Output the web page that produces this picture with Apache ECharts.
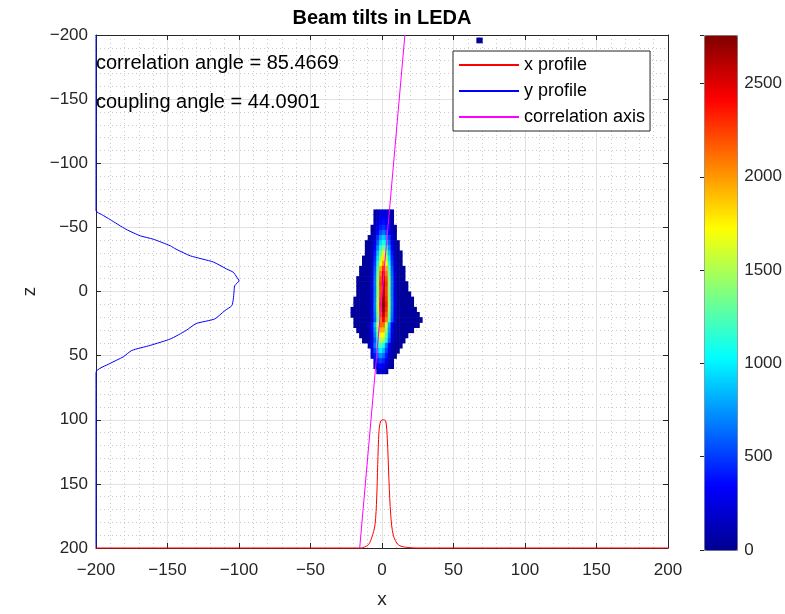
<!DOCTYPE html>
<html><head><meta charset="utf-8">
<script src="https://cdn.jsdelivr.net/npm/echarts@6/dist/echarts.min.js"></script>
<style>html,body{margin:0;padding:0;background:#fff}#c{width:785px;height:614px}</style>
</head><body><div id="c"></div>
<script>
// ---------------- data ----------------
const xTickStep = 50;               // x and z axes: -200 ... 200
const colorbarTicks = [0, 500, 1000, 1500, 2000, 2500];
const colorbarMax = 2760;
const annotations = ['correlation angle = 85.4669', 'coupling angle = 44.0901'];

// y profile (blue): [x, z]
const yProfile = [
  [-200,-200],[-200,-63],[-196,-60],[-190,-56],[-179,-48.5],[-169,-43.4],[-160,-40.8],
  [-148,-35.6],[-144,-33],[-134,-27.8],[-118,-23],[-108.6,-17.5],[-104,-15],[-101.6,-11.3],
  [-100,-8.4],[-103,-4.5],[-103.5,0.4],[-104,6],[-105,11],[-110,15],[-117,21.4],[-130,25],
  [-137,30.4],[-148,37],[-162,42],[-175,46],[-181,51],[-190,56],[-200,63],[-200,200]
];
// x profile (red): [x, z]
const xProfile = [
  [-200,200],[-15,200],[-9.6,197.5],[-7.2,192],[-4.9,182],[-3.7,161],[-3,135],[-2.1,109],
  [-0.9,101],[0.9,100],[2.6,101],[3.7,114.6],[4.9,148],[6.1,174],[7.9,190],[11.4,197.5],
  [17,199.5],[25,200],[200,200]
];
// correlation axis (magenta): [x, z]
const corrAxis = [[16,-200],[-15.6,200]];

// beam image: each row = [z centre, x centre of first cell, counts of cells every 2 units in x]
const beamCellW = 2, beamCellH = 4;
const beamRows = [
  [-196, 67, 20,20],
  [-62, -5, 62,135,214,250,214,135,62],
  [-58, -5, 75,162,257,300,257,162,75],
  [-54, -5, 95,205,326,380,326,205,95],
  [-50, -7, 40,120,259,411,480,411,259,120,40],
  [-46, -7, 55,163,351,557,650,557,351,163,55],
  [-42, -9, 40,77,225,486,771,900,771,486,225,77],
  [-38, -11, 40,40,94,275,594,943,1100,943,594,275,94,40],
  [-34, -11, 40,40,115,338,729,1157,1350,1157,729,338,115,40],
  [-30, -11, 40,40,136,400,864,1371,1600,1371,864,400,136,40,40],
  [-26, -13, 40,40,40,151,445,961,1525,1780,1525,961,445,151,40,40],
  [-22, -13, 40,40,42,170,500,1080,1714,2000,1714,1080,500,170,42,40],
  [-18, -15, 40,40,40,48,194,570,1231,1954,2280,1954,1231,570,194,48,40,40],
  [-14, -15, 40,40,40,51,208,613,1323,2100,2450,2100,1323,613,208,51,40,40],
  [-10, -17, 40,40,40,40,54,219,645,1393,2211,2580,2211,1393,645,219,54,40,40],
  [-6, -17, 40,40,40,40,56,225,663,1431,2271,2650,2271,1431,663,225,56,40,40,40],
  [-2, -17, 40,40,40,40,55,221,650,1404,2228,2600,2228,1404,650,221,55,40,40,40],
  [2, -17, 40,40,40,40,55,223,655,1415,2245,2620,2245,1415,655,223,55,40,40,40,40],
  [6, -19, 40,40,40,40,40,57,228,670,1447,2297,2680,2297,1447,670,228,57,40,40,40,40,40],
  [10, -19, 40,40,40,40,40,58,234,688,1485,2357,2750,2357,1485,688,234,58,40,40,40,40,40],
  [14, -21, 40,40,40,40,40,40,57,228,670,1447,2297,2680,2297,1447,670,228,57,40,40,40,40,40,40],
  [18, -21, 40,40,40,40,40,40,54,219,645,1393,2211,2580,2211,1393,645,219,54,40,40,40,40,40,40,40],
  [22, -19, 40,40,40,40,40,51,206,605,1307,2074,2420,2074,1307,605,206,51,40,40,40,40,40,40,40,40],
  [26, -19, 40,40,40,40,40,98,333,844,1570,2136,2136,1570,844,333,98,40,40,40,40,40,40,40,40],
  [30, -17, 40,40,40,40,88,300,760,1414,1924,1924,1414,760,300,88,40,40,40,40,40,40],
  [34, -15, 40,40,40,79,270,684,1273,1732,1732,1273,684,270,79,40,40,40,40],
  [38, -13, 40,40,68,233,589,1096,1491,1491,1096,589,233,68,40,40,40],
  [42, -9, 109,320,691,1097,1280,1097,691,320,109,40,40,40],
  [46, -7, 250,540,857,1000,857,540,250,85,40,40],
  [50, -7, 188,405,643,750,643,405,188,64,40],
  [54, -5, 281,446,520,446,281,130,40],
  [58, -5, 189,300,350,300,189,88,40],
  [62, -3, 189,220,189,119]
];
const jet = ['#000090','#0000ff','#0080ff','#00ffff','#80ff80','#ffff00','#ff8000','#ff0000','#800000'];

// ---------------- build ----------------
const beamCells = [];
beamRows.forEach(r => {
  for (let i = 2; i < r.length; i++) beamCells.push([r[1] + (i - 2) * beamCellW, r[0], r[i]]);
});

const FONT = "'Liberation Sans', Arial, Helvetica, sans-serif";
const INK = '#262626';
const fmt = v => (v < 0 ? '\u2212' + Math.abs(v) : String(v));

function frameAxis(extra) {
  return Object.assign({
    type: 'value', min: -200, max: 200, interval: xTickStep, gridIndex: 0,
    axisLine: { show: true, onZero: false, lineStyle: { color: INK, width: 1 } },
    axisTick: { show: true, inside: true, length: 5, lineStyle: { color: INK } },
    axisLabel: { show: false },
    splitLine: { show: false },
    minorTick: { show: false, splitNumber: 5 },
    minorSplitLine: { show: false }
  }, extra);
}
const mainLabel = { show: true, fontSize: 17, color: INK, fontFamily: FONT, formatter: fmt };
const majorGrid = { show: true, lineStyle: { color: '#e2e2e2', width: 1 } };
const minorGrid = { show: true, lineStyle: { color: '#c9c9c9', width: 1, type: [1, 3] } };

const chart = echarts.init(document.getElementById('c'));
chart.setOption({
  animation: false,
  backgroundColor: '#fff',
  title: [
    { text: 'Beam tilts in LEDA', left: 382, top: 8, textAlign: 'center', padding: 0,
      textStyle: { fontSize: 20, fontWeight: 'bold', color: '#000', fontFamily: FONT } },
    { text: annotations[0], left: 96, top: 53, padding: 0,
      textStyle: { fontSize: 20, fontWeight: 'normal', color: '#000', fontFamily: FONT } },
    { text: annotations[1], left: 96, top: 92, padding: 0,
      textStyle: { fontSize: 20, fontWeight: 'normal', color: '#000', fontFamily: FONT } }
  ],
  legend: {
    data: ['x profile', 'y profile', 'correlation axis'],
    orient: 'vertical', left: 453, top: 51, padding: 5, itemGap: 8,
    itemWidth: 60, itemHeight: 17, selectedMode: false,
    itemStyle: { opacity: 0 },
    textStyle: { fontSize: 18, color: '#000', fontFamily: FONT },
    backgroundColor: '#fff', borderColor: INK, borderWidth: 1
  },
  grid: [
    { left: 96, top: 35, width: 572, height: 515 },
    { left: 704, top: 35, width: 33, height: 515 }
  ],
  xAxis: [
    frameAxis({ position: 'bottom', name: 'x', nameLocation: 'middle', nameGap: 42,
      nameTextStyle: { fontSize: 19, color: INK, fontFamily: FONT },
      axisLabel: Object.assign({ margin: 14 }, mainLabel),
      splitLine: majorGrid, minorSplitLine: minorGrid }),
    frameAxis({ position: 'top' }),
    { type: 'value', gridIndex: 1, min: 0, max: 1, show: false }
  ],
  yAxis: [
    frameAxis({ position: 'left', inverse: true, name: 'z', nameLocation: 'middle', nameGap: 54,
      nameRotate: 90,
      nameTextStyle: { fontSize: 19, color: INK, fontFamily: FONT },
      axisLabel: Object.assign({ margin: 8 }, mainLabel),
      splitLine: majorGrid, minorSplitLine: minorGrid }),
    frameAxis({ position: 'right', inverse: true }),
    { type: 'value', gridIndex: 1, position: 'right', min: 0, max: colorbarMax, interval: 500, z: 10,
      axisLine: { show: false },
      axisTick: { show: true, inside: true, length: 4, lineStyle: { color: INK } },
      axisLabel: { show: true, fontSize: 17, color: INK, fontFamily: FONT, margin: 9,
        formatter: v => (colorbarTicks.indexOf(v) >= 0 ? String(v) : '') },
      splitLine: { show: false } }
  ],
  visualMap: {
    type: 'continuous', min: 0, max: colorbarMax, dimension: 2, seriesIndex: 0,
    calculable: false, hoverLink: false, orient: 'vertical', left: 704, top: 35,
    itemWidth: 33, itemHeight: 515, padding: 0, text: null,
    inRange: { color: jet },
    borderColor: '#7f7f7f', borderWidth: 1
  },
  series: [
    {
      type: 'custom', name: 'beam', xAxisIndex: 0, yAxisIndex: 0,
      dimensions: ['x', 'z', 'count'], encode: { x: 0, y: 1 },
      data: beamCells, clip: true,
      renderItem: function (params, api) {
        const x = api.value(0), z = api.value(1);
        const p0 = api.coord([x - beamCellW / 2, z - beamCellH / 2]);
        const p1 = api.coord([x + beamCellW / 2, z + beamCellH / 2]);
        return {
          type: 'rect',
          shape: { x: Math.min(p0[0], p1[0]), y: Math.min(p0[1], p1[1]),
                   width: Math.abs(p1[0] - p0[0]) + 0.6, height: Math.abs(p1[1] - p0[1]) + 0.6 },
          style: { fill: api.visual('color') }
        };
      }
    },
    { type: 'line', name: 'x profile', data: xProfile, symbol: 'none', clip: false,
      lineStyle: { color: '#ff0000', width: 1 }, itemStyle: { color: '#ff0000' }, smooth: 0.3 },
    { type: 'line', name: 'y profile', data: yProfile, symbol: 'none', clip: false,
      lineStyle: { color: '#0000ff', width: 1 }, itemStyle: { color: '#0000ff' }, smooth: 0.2 },
    { type: 'line', name: 'correlation axis', data: corrAxis, symbol: 'none', clip: false,
      lineStyle: { color: '#ff00ff', width: 1 }, itemStyle: { color: '#ff00ff' } }
  ]
});
</script></body></html>
